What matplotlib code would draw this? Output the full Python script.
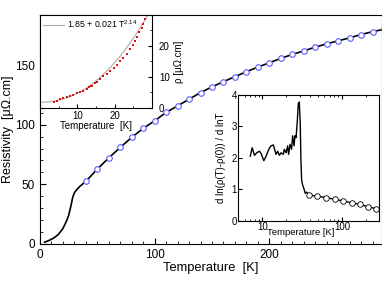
import numpy as np
import matplotlib.pyplot as plt
from matplotlib.ticker import MultipleLocator, NullFormatter, FixedLocator, ScalarFormatter

plt.rcParams['font.family'] = ['Liberation Sans', 'DejaVu Sans']
plt.rcParams['mathtext.fontset'] = 'custom'
plt.rcParams['mathtext.rm'] = 'Liberation Sans'

# main curve: resistivity vs temperature
T_main = [4, 8, 12, 16, 20, 23, 25, 27, 28.5, 30, 32, 35,
          40, 50, 60, 70, 80, 90, 100, 110, 120, 130, 140, 150, 160, 170,
          180, 190, 200, 210, 220, 230, 240, 250, 260, 270, 280, 290, 300]
R_main = [1.5, 3, 5, 8, 13, 19, 24, 32, 39, 43, 45.5, 48.5,
          52.5, 62.8, 72.2, 81, 89.4, 96.9, 103.3, 110.3, 115.8, 121.4, 126.9,
          131.7, 136.1, 140.3, 144.4, 148.3, 151.9, 155.6, 158.9, 161.9, 165,
          167.8, 170.3, 172.8, 175.6, 178, 180]
T_mark_start = 40

# low temperature inset
T_low = [3.75, 4.47, 5.36, 6.26, 7.15, 8.04, 8.94, 9.83, 10.7, 11.6, 12.5,
         13.1, 13.7, 14.0, 14.6, 15.2, 16.1, 17.0, 17.9, 18.8, 19.7, 20.6,
         21.4, 22.3, 23.2, 24.1, 24.8, 25.5, 26.1, 26.6, 27.3, 27.7, 28.1]
rho_low = [1.97, 2.3, 2.74, 3.08, 3.4, 3.84, 4.16, 4.7, 5.15, 5.6, 6.13,
           6.7, 7.1, 7.1, 8.0, 8.5, 9.3, 10.2, 11.05, 12.0, 12.9, 14.0,
           15.1, 16.2, 17.5, 18.9, 20.2, 21.6, 22.9, 24.4, 25.7, 27.1, 28.8]
fit_a, fit_b, fit_n = 1.85, 0.021, 2.14

# log-derivative inset
T_der = [7.02, 7.43, 7.94, 8.49, 9.17, 9.63, 10.4, 11.1, 12.0, 12.8, 13.7,
         14.8, 15.5, 16.3, 17.1, 18.3, 18.8, 19.8, 20.7, 21.3, 22.2, 23.2,
         23.9, 24.9, 25.6, 26.4, 27.2, 28.2, 29.0, 29.8, 30.4, 31.0, 31.9,
         33.5, 34.5, 35.8, 38.7, 47.7, 62.5, 81.7, 103, 132, 168, 213, 264]
D_der = [2.04, 2.31, 2.07, 2.15, 2.20, 2.12, 1.90, 2.04, 2.26, 2.37, 2.40,
         2.10, 2.20, 2.07, 2.15, 2.10, 2.26, 2.15, 2.37, 2.10, 2.42, 2.26,
         2.69, 2.37, 2.69, 2.63, 3.06, 3.71, 3.76, 3.06, 1.88, 1.29, 1.13,
         0.97, 0.86, 0.90, 0.81, 0.77, 0.73, 0.67, 0.62, 0.56, 0.51, 0.43, 0.38]
T_der_mark = [38.7, 47.7, 62.5, 81.7, 103, 132, 168, 213, 264]
D_der_mark = [0.81, 0.77, 0.73, 0.67, 0.62, 0.56, 0.51, 0.43, 0.38]

fig = plt.figure(figsize=(3.82, 2.81), dpi=100)

# main axes
ax = fig.add_axes([0.1047, 0.1317, 0.8945, 0.815])
ax.plot(T_main, R_main, color='black', lw=1.2, zorder=2)
Tm = np.array(T_main)
Rm = np.array(R_main)
sel = Tm >= T_mark_start
ax.plot(Tm[sel], Rm[sel], 'o', ms=4, mfc='white', mec='#5b5bff', mew=0.8, zorder=3)
ax.set_xlim(0, 298)
ax.set_ylim(0, 192)
ax.xaxis.set_major_locator(MultipleLocator(100))
ax.xaxis.set_minor_locator(MultipleLocator(10))
ax.yaxis.set_major_locator(MultipleLocator(50))
ax.yaxis.set_minor_locator(MultipleLocator(10))
ax.tick_params(which='both', direction='in', labelsize=8.5)
ax.tick_params(which='major', length=4)
ax.tick_params(which='minor', length=2)
ax.set_xlabel('Temperature  [K]', fontsize=9.3, labelpad=1)
ax.set_ylabel('Resistivity  [\u03bc\u03a9.cm]', fontsize=9, va='center')
ax.yaxis.set_label_coords(-0.094, 0.5)

# low-T inset (top left)
ax1 = fig.add_axes([0.1047, 0.6157, 0.2932, 0.331])
Tf = np.linspace(0, 30, 200)
ax1.plot(Tf, fit_a + fit_b * Tf ** fit_n, color='#aaaaaa', lw=0.8,
         label='1.85 + 0.021 T$^{2.14}$')
ax1.plot(T_low, rho_low, 's', ms=1.8, color='#e01010', mew=0)
ax1.set_xlim(0, 30)
ax1.set_ylim(0, 30)
ax1.xaxis.set_major_locator(FixedLocator([10, 20]))
ax1.xaxis.set_minor_locator(MultipleLocator(5))
ax1.yaxis.set_major_locator(FixedLocator([0, 10, 20]))
ax1.yaxis.set_minor_locator(MultipleLocator(5))
ax1.yaxis.tick_right()
ax1.yaxis.set_label_position('right')
ax1.tick_params(which='both', direction='in', labelsize=7)
ax1.tick_params(axis='x', pad=2)
ax1.tick_params(axis='y', pad=5)
ax1.tick_params(which='major', length=3)
ax1.tick_params(which='minor', length=1.5)
ax1.set_xlabel('Temperature  [K]', fontsize=7, labelpad=0)
ax1.set_ylabel('\u03c1 [\u03bc\u03a9.cm]', fontsize=7, labelpad=3)
ax1.legend(loc='upper left', frameon=False, fontsize=6.3, handlelength=2.3,
           borderaxespad=0.1, borderpad=0.3, handletextpad=0.4)

# derivative inset (bottom right)
ax2 = fig.add_axes([0.6243, 0.2153, 0.3678, 0.4484])
ax2.plot(T_der, D_der, color='black', lw=1.0)
ax2.plot(T_der_mark, D_der_mark, 'o', ms=4, mfc='white', mec='black', mew=0.6)
ax2.set_xscale('log')
ax2.set_xlim(5, 290)
ax2.set_ylim(0, 4)
ax2.yaxis.set_major_locator(MultipleLocator(1))
ax2.xaxis.set_major_locator(FixedLocator([10, 100]))
ax2.xaxis.set_major_formatter(ScalarFormatter())
ax2.xaxis.set_minor_formatter(NullFormatter())
ax2.tick_params(which='both', direction='in', labelsize=7, pad=1, top=True)
ax2.tick_params(which='major', length=3)
ax2.tick_params(which='minor', length=1.5)
ax2.set_xlabel('Temperature [K]', fontsize=6.8, va='center')
ax2.xaxis.set_label_coords(0.44, -0.095)
ax2.set_ylabel('d ln(\u03c1(T)-\u03c1(0)) / d lnT', fontsize=7, labelpad=4)

plt.savefig('out.png', dpi=100)
